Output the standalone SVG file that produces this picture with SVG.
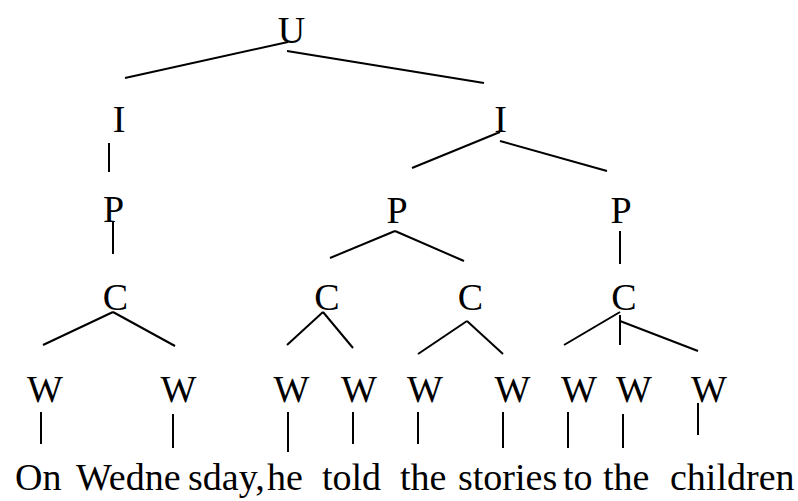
<svg xmlns="http://www.w3.org/2000/svg" width="798" height="501" viewBox="0 0 798 501">
<rect width="798" height="501" fill="#fff"/>
<g id="connectors" stroke="#000" stroke-width="2" fill="none">
<line x1="288" y1="42" x2="125" y2="78"/>
<line x1="287" y1="51" x2="484" y2="83"/>
<line x1="109" y1="143" x2="109" y2="172"/>
<line x1="500" y1="132" x2="412" y2="168"/>
<line x1="500" y1="141" x2="607" y2="171"/>
<line x1="113" y1="222" x2="113" y2="254"/>
<line x1="395" y1="231" x2="330" y2="258"/>
<line x1="395" y1="231" x2="464" y2="261"/>
<line x1="620" y1="231" x2="620" y2="264"/>
<line x1="113" y1="312" x2="43" y2="345"/>
<line x1="113" y1="312" x2="175" y2="346"/>
<line x1="323" y1="312" x2="287" y2="345"/>
<line x1="323" y1="312" x2="353" y2="348"/>
<line x1="467" y1="321" x2="418" y2="354"/>
<line x1="467" y1="321" x2="503" y2="354"/>
<line x1="620" y1="312" x2="564" y2="345"/>
<line x1="620" y1="315" x2="620" y2="345"/>
<line x1="620" y1="321" x2="698" y2="351"/>
<line x1="41" y1="412" x2="41" y2="444"/>
<line x1="173" y1="414" x2="173" y2="448"/>
<line x1="288" y1="412" x2="288" y2="452"/>
<line x1="353" y1="412" x2="353" y2="444"/>
<line x1="418" y1="412" x2="418" y2="444"/>
<line x1="503" y1="412" x2="503" y2="448"/>
<line x1="568" y1="412" x2="568" y2="448"/>
<line x1="623" y1="414" x2="623" y2="448"/>
<line x1="698" y1="403" x2="698" y2="435"/>
</g>
<g id="n-U"><text font-family="Times New Roman, Liberation Serif, serif" font-size="38" text-anchor="middle" x="291.5" y="43">U</text></g>
<g id="n-I1"><text font-family="Times New Roman, Liberation Serif, serif" font-size="38" text-anchor="middle" x="119" y="132">I</text></g>
<g id="n-I2"><text font-family="Times New Roman, Liberation Serif, serif" font-size="38" text-anchor="middle" x="500.5" y="132">I</text></g>
<g id="n-P1"><text font-family="Times New Roman, Liberation Serif, serif" font-size="38" text-anchor="middle" x="113.5" y="222">P</text></g>
<g id="n-P2"><text font-family="Times New Roman, Liberation Serif, serif" font-size="38" text-anchor="middle" x="397" y="223">P</text></g>
<g id="n-P3"><text font-family="Times New Roman, Liberation Serif, serif" font-size="38" text-anchor="middle" x="621" y="223">P</text></g>
<g id="n-C1"><text font-family="Times New Roman, Liberation Serif, serif" font-size="38" text-anchor="middle" x="115.5" y="310">C</text></g>
<g id="n-C2"><text font-family="Times New Roman, Liberation Serif, serif" font-size="38" text-anchor="middle" x="327" y="310">C</text></g>
<g id="n-C3"><text font-family="Times New Roman, Liberation Serif, serif" font-size="38" text-anchor="middle" x="470.5" y="310">C</text></g>
<g id="n-C4"><text font-family="Times New Roman, Liberation Serif, serif" font-size="38" text-anchor="middle" x="624" y="310">C</text></g>
<g id="n-W1"><text font-family="Times New Roman, Liberation Serif, serif" font-size="38" text-anchor="middle" x="45" y="402">W</text></g>
<g id="n-W2"><text font-family="Times New Roman, Liberation Serif, serif" font-size="38" text-anchor="middle" x="178.5" y="402">W</text></g>
<g id="n-W3"><text font-family="Times New Roman, Liberation Serif, serif" font-size="38" text-anchor="middle" x="291.5" y="402">W</text></g>
<g id="n-W4"><text font-family="Times New Roman, Liberation Serif, serif" font-size="38" text-anchor="middle" x="359" y="402">W</text></g>
<g id="n-W5"><text font-family="Times New Roman, Liberation Serif, serif" font-size="38" text-anchor="middle" x="425" y="402">W</text></g>
<g id="n-W6"><text font-family="Times New Roman, Liberation Serif, serif" font-size="38" text-anchor="middle" x="512.5" y="402">W</text></g>
<g id="n-W7"><text font-family="Times New Roman, Liberation Serif, serif" font-size="38" text-anchor="middle" x="579" y="402">W</text></g>
<g id="n-W8"><text font-family="Times New Roman, Liberation Serif, serif" font-size="38" text-anchor="middle" x="634" y="402">W</text></g>
<g id="n-W9"><text font-family="Times New Roman, Liberation Serif, serif" font-size="38" text-anchor="middle" x="709" y="402">W</text></g>
<g id="sentence">
<text font-family="Times New Roman, Liberation Serif, serif" font-size="38" x="15" y="490">On</text>
<text font-family="Times New Roman, Liberation Serif, serif" font-size="38" x="76" y="490">Wedne</text>
<text font-family="Times New Roman, Liberation Serif, serif" font-size="38" x="188" y="490">sday,</text>
<text font-family="Times New Roman, Liberation Serif, serif" font-size="38" x="267" y="490">he</text>
<text font-family="Times New Roman, Liberation Serif, serif" font-size="38" x="322" y="490">told</text>
<text font-family="Times New Roman, Liberation Serif, serif" font-size="38" x="400" y="490">the</text>
<text font-family="Times New Roman, Liberation Serif, serif" font-size="38" x="458" y="490">stories</text>
<text font-family="Times New Roman, Liberation Serif, serif" font-size="38" x="563" y="490">to</text>
<text font-family="Times New Roman, Liberation Serif, serif" font-size="38" x="603" y="490">the</text>
<text font-family="Times New Roman, Liberation Serif, serif" font-size="38" x="670" y="490">children</text>
</g>
</svg>
